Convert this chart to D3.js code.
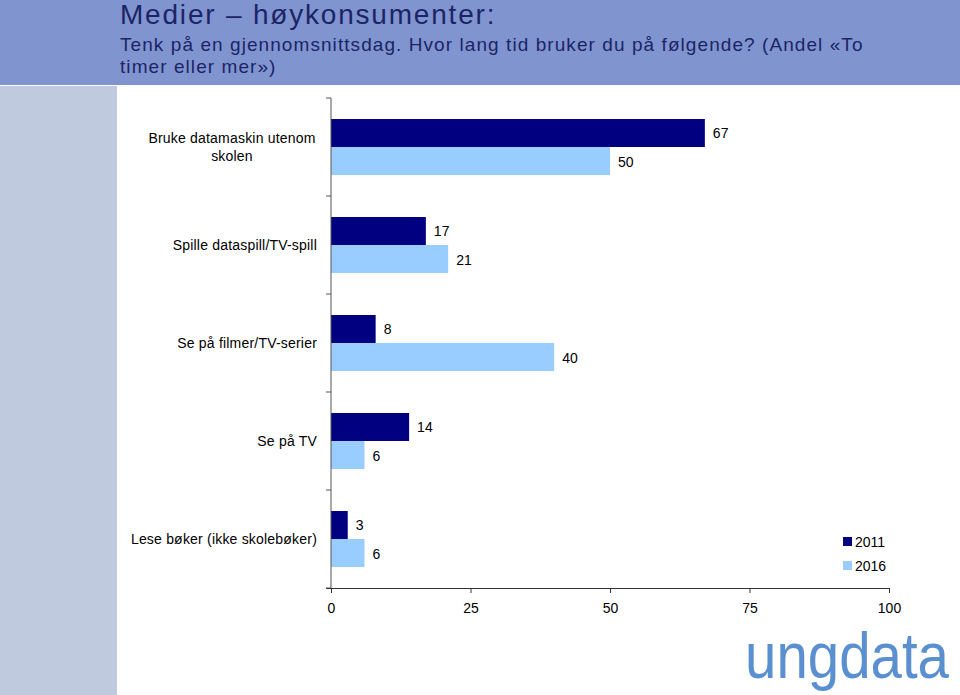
<!DOCTYPE html>
<html><head><meta charset="utf-8">
<script src="https://cdn.jsdelivr.net/npm/d3@7/dist/d3.min.js"></script>
<style>body{margin:0;background:#fff}svg{display:block}text{font-family:"Liberation Sans",Arial,sans-serif}</style>
</head><body>
<svg id="c" width="960" height="695"></svg>
<script>
const categories = [["Bruke datamaskin utenom", "skolen"], ["Spille dataspill/TV-spill"], ["Se på filmer/TV-serier"], ["Se på TV"], ["Lese bøker (ikke skolebøker)"]];
const series2011 = [67, 17, 8, 14, 3];
const series2016 = [50, 21, 40, 6, 6];
const seriesNames = ["2011", "2016"];
const tickValues = [0, 25, 50, 75, 100];
const colors = ["#000080", "#99ccff"];

const svg = d3.select("#c");
// background bands
svg.append("rect").attr("x",0).attr("y",0).attr("width",960).attr("height",85).attr("fill","#8095d0");
svg.append("rect").attr("x",0).attr("y",86).attr("width",117).attr("height",609).attr("fill","#c0cadf");

// titles
svg.append("text").attr("x",120).attr("y",24).attr("font-size",28).attr("letter-spacing",1.8).attr("fill","#1c2466").text("Medier \u2013 høykonsumenter:");
svg.append("text").attr("x",120).attr("y",51).attr("font-size",19).attr("letter-spacing",1.07).attr("fill","#1c2466").text("Tenk på en gjennomsnittsdag. Hvor lang tid bruker du på følgende? (Andel «To");
svg.append("text").attr("x",120).attr("y",73).attr("font-size",19).attr("letter-spacing",1.07).attr("fill","#1c2466").text("timer eller mer»)");

const x = d3.scaleLinear().domain([0,100]).range([331,889]);
const y = d3.scaleBand().domain(d3.range(categories.length)).range([98,588]);
const inner = d3.scaleBand().domain([0,1]).range([0,56]);

// bars
const g = svg.append("g");
categories.forEach((c,i)=>{
  const vals=[series2011[i], series2016[i]];
  const y0 = y(i)+y.bandwidth()/2-28;
  vals.forEach((v,j)=>{
    g.append("rect").attr("x",x(0)).attr("y",y0+inner(j)).attr("width",x(v)-x(0)).attr("height",inner.bandwidth()).attr("fill",colors[j]);
    g.append("text").attr("x",x(v)+8).attr("y",y0+inner(j)+inner.bandwidth()/2+5+j).attr("font-size",14).attr("fill","#000").text(v);
  });
  // category label
  if(c.length>1){
    c.forEach((line,k)=>{
      g.append("text").attr("x",232).attr("y",y(i)+y.bandwidth()/2-9+k*18+5).attr("text-anchor","middle").attr("font-size",14).attr("letter-spacing",0.2).text(line);
    });
  } else {
    g.append("text").attr("x",317).attr("y",y(i)+y.bandwidth()/2+5).attr("text-anchor","end").attr("font-size",14).attr("letter-spacing",0.2).text(c[0]);
  }
});

// y axis
const yAxis = svg.append("g");
yAxis.append("line").attr("x1",331).attr("x2",331).attr("y1",98).attr("y2",588).attr("stroke","#555").attr("stroke-width",1);
d3.range(categories.length+1).forEach(i=>{
  const yy = i<categories.length? y(i): 588;
  yAxis.append("line").attr("x1",326).attr("x2",331).attr("y1",yy).attr("y2",yy).attr("stroke","#555");
});

// x axis
const xAxis = svg.append("g").attr("transform","translate(0,588)")
  .call(d3.axisBottom(x).tickValues(tickValues).tickSize(5).tickSizeOuter(0).tickPadding(10));
xAxis.select(".domain").attr("stroke","#333").attr("d","M326,0.5H889");
xAxis.selectAll(".tick line").attr("stroke","#333");
xAxis.selectAll("text").attr("font-size",14).attr("fill","#000").attr("font-family","Liberation Sans, Arial, sans-serif");

// legend
seriesNames.forEach((n,j)=>{
  svg.append("rect").attr("x",843).attr("y",537+j*24).attr("width",9).attr("height",9).attr("fill",colors[j]);
  svg.append("text").attr("x",855).attr("y",547+j*24).attr("font-size",14).text(n);
});

// logo
svg.append("text").attr("x",745).attr("y",678).attr("font-size",64).attr("font-family","Lato, 'Open Sans', sans-serif").attr("font-weight",300).attr("fill","#5b90d0").attr("textLength",204).attr("lengthAdjust","spacingAndGlyphs").text("ungdata");
</script>
</body></html>
